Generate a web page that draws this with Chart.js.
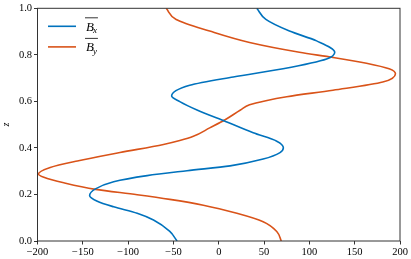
<!DOCTYPE html>
<html>
<head>
<meta charset="utf-8">
<script src="https://cdn.jsdelivr.net/npm/chart.js@4"></script>
<style>
html,body{margin:0;padding:0;background:#fff;}
#wrap{width:411px;height:259px;position:relative;}
</style>
</head>
<body>
<div id="wrap"><canvas id="c" width="411" height="259"></canvas></div>
<script>
// ---- data ----
const zBx = [0,0.041,0.090,0.119,0.147,0.171,0.196,0.224,0.255,0.281,0.302,0.323,0.352,0.380,0.401,0.429,0.465,0.518,0.563,0.599,0.623,0.669,0.705,0.740,0.782,0.811,0.860,0.902,0.952,1.0];
const Bx  = [-46,-54,-72,-90,-116,-134,-142.5,-136,-116,-79,-35,12.5,49,67.6,71.3,64,38,5,-24,-43,-52,-32,16,71,119,128,108,78,52,42];
const zBy = [0,0.041,0.083,0.119,0.154,0.179,0.199,0.222,0.250,0.274,0.288,0.316,0.344,0.380,0.415,0.432,0.450,0.486,0.521,0.563,0.585,0.603,0.620,0.648,0.683,0.719,0.740,0.764,0.789,0.811,0.853,0.902,0.952,1.0];
const By  = [69,64,49,20,-17,-54,-90,-136,-171,-193,-199,-186,-156,-109,-61,-43,-28,-10,7,24,34,52,75,126,181,195,188,163,126,89,34,-10,-47,-58];
const xTicks = [-200,-150,-100,-50,0,50,100,150,200];
const yTicks = [0.0,0.2,0.4,0.6,0.8,1.0];
const seriesNames = [['B','x'],['B','y']];
const colors = ['#0072BD','#D95319'];

const toPts = (xs, zs) => xs.map((v,i)=>({x:v, y:zs[i]}));

const SERIF = '"Liberation Serif","DejaVu Serif",serif';

const framePlugin = {
  id:'frame',
  afterDraw(chart){
    const {ctx, chartArea:a} = chart;
    ctx.save();
    ctx.strokeStyle = '#333';
    ctx.lineWidth = 1;
    ctx.strokeRect(a.left, a.top, a.right-a.left, a.bottom-a.top);
    // legend
    seriesNames.forEach((nm, i)=>{
      const y = a.top + 18 + i*20.6;
      const x0 = a.left + 10.5;
      ctx.strokeStyle = colors[i];
      ctx.lineWidth = 1.6;
      ctx.beginPath(); ctx.moveTo(x0, y); ctx.lineTo(x0+28, y); ctx.stroke();
      const tx = x0 + 38;
      ctx.fillStyle = '#000';
      ctx.textBaseline = 'alphabetic';
      ctx.textAlign = 'left';
      ctx.font = 'italic 13px ' + SERIF;
      ctx.fillText(nm[0], tx, y+4.5);
      const wB = ctx.measureText(nm[0]).width;
      ctx.font = 'italic 9px ' + SERIF;
      ctx.fillText(nm[1], tx+wB-1, y+7);
      const ws = ctx.measureText(nm[1]).width;
      ctx.strokeStyle = '#000';
      ctx.lineWidth = 0.8;
      ctx.beginPath(); ctx.moveTo(tx-1, y-8.5); ctx.lineTo(tx+wB+ws, y-8.5); ctx.stroke();
    });
    ctx.restore();
  }
};

new Chart(document.getElementById('c'), {
  type:'scatter',
  data:{
    datasets:[
      {label:'Bx', data:toPts(Bx,zBx), showLine:true, borderColor:colors[0], borderWidth:1.6, pointRadius:0, cubicInterpolationMode:'monotone', fill:false},
      {label:'By', data:toPts(By,zBy), showLine:true, borderColor:colors[1], borderWidth:1.6, pointRadius:0, cubicInterpolationMode:'monotone', fill:false}
    ]
  },
  options:{
    indexAxis:'y',
    responsive:false,
    animation:false,
    devicePixelRatio:1,
    layout:{padding:{top:5, right:11, left:0, bottom:0}},
    plugins:{legend:{display:false}, tooltip:{enabled:false}},
    scales:{
      x:{
        type:'linear', position:'bottom', min:-200, max:200,
        afterBuildTicks(s){ s.ticks = xTicks.map(v=>({value:v})); },
        afterFit(s){ s.height = 18; },
        grid:{drawOnChartArea:false, drawTicks:true, tickLength:3.5, tickColor:'#000', tickWidth:0.8},
        border:{display:false},
        ticks:{color:'#000', padding:1, maxRotation:0, autoSkip:false,
          font:{family:SERIF, size:10.5},
          callback:v => (v<0 ? '\u2212' + Math.abs(v) : String(v))}
      },
      y:{
        type:'linear', position:'left', min:0, max:1,
        afterBuildTicks(s){ s.ticks = yTicks.map(v=>({value:v})); },
        afterFit(s){ s.width = 37.5; },
        grid:{drawOnChartArea:false, drawTicks:true, tickLength:3.5, tickColor:'#000', tickWidth:0.8},
        border:{display:false},
        title:{display:true, text:'z', color:'#000', padding:{top:0,bottom:0}, font:{family:SERIF, size:10, style:'italic'}},
        ticks:{color:'#000', padding:2, autoSkip:false,
          font:{family:SERIF, size:10.5},
          callback:v => Number(v).toFixed(1)}
      }
    }
  },
  plugins:[framePlugin]
});
</script>
</body>
</html>
